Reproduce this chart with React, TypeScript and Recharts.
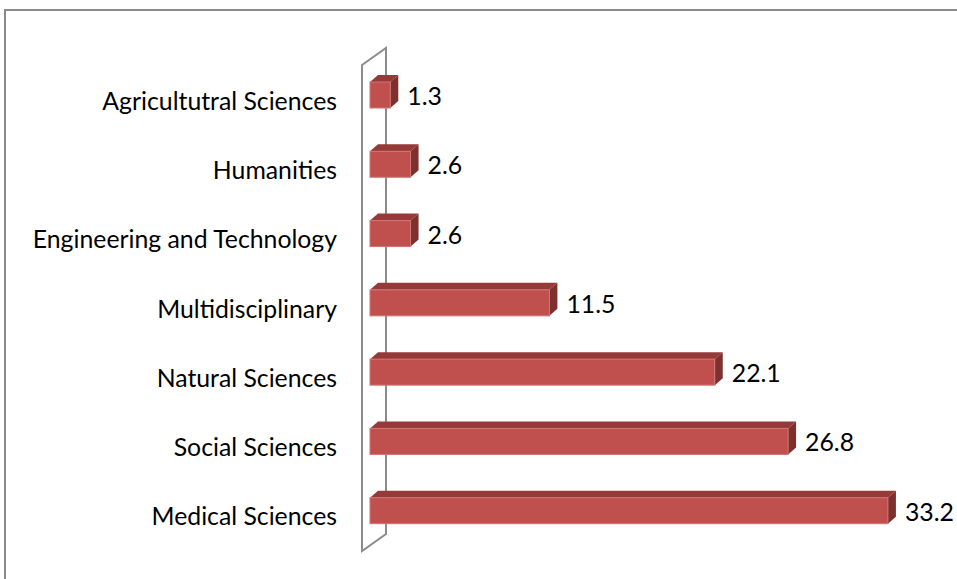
import { BarChart, Bar, XAxis, YAxis, LabelList } from 'recharts';

const categories = [
  'Agricultutral Sciences',
  'Humanities',
  'Engineering and Technology',
  'Multidisciplinary',
  'Natural Sciences',
  'Social Sciences',
  'Medical Sciences',
];
const shares = [1.3, 2.6, 2.6, 11.5, 22.1, 26.8, 33.2];

const data = categories.map((name, i) => ({ name, value: shares[i] }));

const W = 957;
const H = 579;
const PLOT_LEFT = 370;
const PLOT_TOP = 60;
const PLOT_BOTTOM = 545;
const FONT = 'Lato, "Noto Sans", sans-serif';
const FONT_SIZE = 24.8;

const FRONT = '#C0504D';
const TOP = '#953A38';
const SIDE = '#7D302E';
const DEPTH_X = 8;
const DEPTH_Y = 7;

function Bar3D(props: any) {
  const { x, y, width, height } = props;
  const r = x + width;
  return (
    <g>
      <polygon
        points={`${x},${y} ${x + DEPTH_X},${y - DEPTH_Y} ${r + DEPTH_X},${y - DEPTH_Y} ${r},${y}`}
        fill={TOP}
      />
      <polygon
        points={`${r},${y} ${r + DEPTH_X},${y - DEPTH_Y} ${r + DEPTH_X},${y + height - DEPTH_Y} ${r},${y + height}`}
        fill={SIDE}
      />
      <rect x={x} y={y} width={width} height={height} fill={FRONT} stroke="#CF7573" strokeWidth={1} />
    </g>
  );
}

function CategoryTick(props: any) {
  const { x, y, payload } = props;
  return (
    <text x={x} y={y + 15} textAnchor="end" fontFamily={FONT} fontSize={FONT_SIZE} fill="#000">
      {payload.value}
    </text>
  );
}

function ValueLabel(props: any) {
  const { x, y, width, height, value } = props;
  return (
    <text x={x + width + 17} y={y + height / 2 + 10} fontFamily={FONT} fontSize={FONT_SIZE} fill="#000">
      {value}
    </text>
  );
}

export default function App() {
  // axis wall outline, taken from the plot frame
  const fx = PLOT_LEFT - 8;
  const ft = PLOT_TOP + 5;
  const fb = PLOT_BOTTOM + 6;
  const bx = fx + 24;
  const wall = `${fx},${ft} ${bx},${ft - 17} ${bx},${fb - 17} ${fx},${fb}`;

  return (
    <div style={{ position: 'fixed', left: 0, top: 0, width: W, height: H, overflow: 'hidden', background: '#fff' }}>
      <div
        style={{
          position: 'absolute',
          left: 4,
          top: 9,
          width: 1200,
          height: 1200,
          border: '2px solid #8A8A8A',
        }}
      />
      <svg width={W} height={H} style={{ position: 'absolute', left: 0, top: 0 }}>
        <polygon points={wall} fill="none" stroke="#8C8C8C" strokeWidth={2} />
      </svg>
      <div style={{ position: 'absolute', left: 0, top: 0 }}>
        <BarChart
          width={W}
          height={H}
          data={data}
          layout="vertical"
          margin={{ top: PLOT_TOP, right: 41, bottom: H - PLOT_BOTTOM, left: 0 }}
        >
          <XAxis type="number" domain={[0, 35]} hide />
          <YAxis
            type="category"
            dataKey="name"
            width={PLOT_LEFT}
            axisLine={false}
            tickLine={false}
            tickSize={0}
            tickMargin={33}
            tick={<CategoryTick />}
            interval={0}
          />
          <Bar dataKey="value" barSize={26} shape={<Bar3D />} isAnimationActive={false}>
            <LabelList dataKey="value" content={<ValueLabel />} />
          </Bar>
        </BarChart>
      </div>
    </div>
  );
}
